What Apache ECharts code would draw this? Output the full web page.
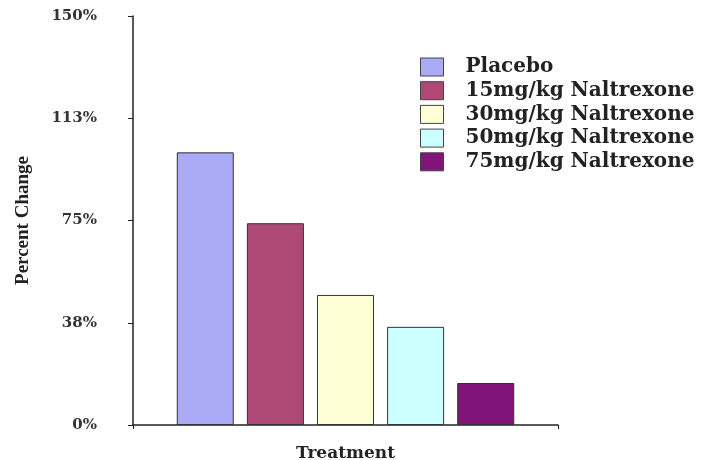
<!DOCTYPE html>
<html>
<head>
<meta charset="utf-8">
<script src="https://cdn.jsdelivr.net/npm/echarts@6/dist/echarts.min.js"></script>
<style>html,body{margin:0;padding:0;background:#fff}#c{width:710px;height:460px}</style>
</head>
<body>
<div id="c"></div>
<script>
var categories = [''];
var seriesNames = ['Placebo', '15mg/kg Naltrexone', '30mg/kg Naltrexone', '50mg/kg Naltrexone', '75mg/kg Naltrexone'];
var seriesValues = [100, 74, 47.7, 36, 15.4];
var seriesColors = ['#aaaaf6', '#ae4874', '#ffffd6', '#ccffff', '#801478'];
var yTickValues = [0, 37.5, 75, 112.5, 150];
var yTickLabels = ['0%', '38%', '75%', '113%', '150%'];

var wide = 'DejaVu Serif';
var serif = 'Liberation Serif';
var chart = echarts.init(document.getElementById('c'));
var series = seriesNames.map(function (n, i) {
  return {
    name: n,
    type: 'bar',
    data: [seriesValues[i]],
    barWidth: 57,
    barGap: '23%',
    itemStyle: { color: seriesColors[i], borderColor: '#333', borderWidth: 1 }
  };
});
chart.setOption({
  animation: false,
  grid: { left: 133, right: 152, top: 16, bottom: 35, containLabel: false, outerBoundsMode: 'none' },
  legend: {
    orient: 'vertical',
    left: 420, top: 57, padding: 0,
    itemWidth: 23, itemHeight: 18, itemGap: 3.7,
    icon: 'rect',
    textStyle: { fontFamily: wide, fontWeight: 'bold', fontSize: 20, color: '#222', padding: [0, 0, 0, 17] },
    data: seriesNames.map(function (n, i) {
      return { name: n, itemStyle: { color: seriesColors[i], borderColor: '#444', borderWidth: 1 } };
    })
  },
  xAxis: {
    type: 'category',
    data: categories,
    name: 'Treatment',
    nameLocation: 'middle',
    nameGap: 20,
    nameTextStyle: { fontFamily: wide, fontWeight: 'bold', fontSize: 17, color: '#222' },
    axisLine: { lineStyle: { color: '#222', width: 1.5 } },
    axisTick: { show: true, length: 4, lineStyle: { color: '#222' } },
    axisLabel: { show: false }
  },
  yAxis: {
    type: 'value',
    min: 0, max: 150, interval: 37.5,
    name: 'Percent Change',
    nameLocation: 'middle',
    nameGap: 100,
    nameTextStyle: { fontFamily: serif, fontWeight: 'bold', fontSize: 19, color: '#222' },
    axisLine: { show: true, lineStyle: { color: '#222', width: 1.5 } },
    axisTick: { show: true, length: 5, lineStyle: { color: '#222' } },
    splitLine: { show: false },
    axisLabel: {
      margin: 36,
      fontFamily: wide, fontWeight: 'bold', fontSize: 15, color: '#333',
      formatter: function (v) {
        var idx = yTickValues.indexOf(v);
        return idx >= 0 ? yTickLabels[idx] : '';
      }
    }
  },
  series: series
});
</script>
</body>
</html>
